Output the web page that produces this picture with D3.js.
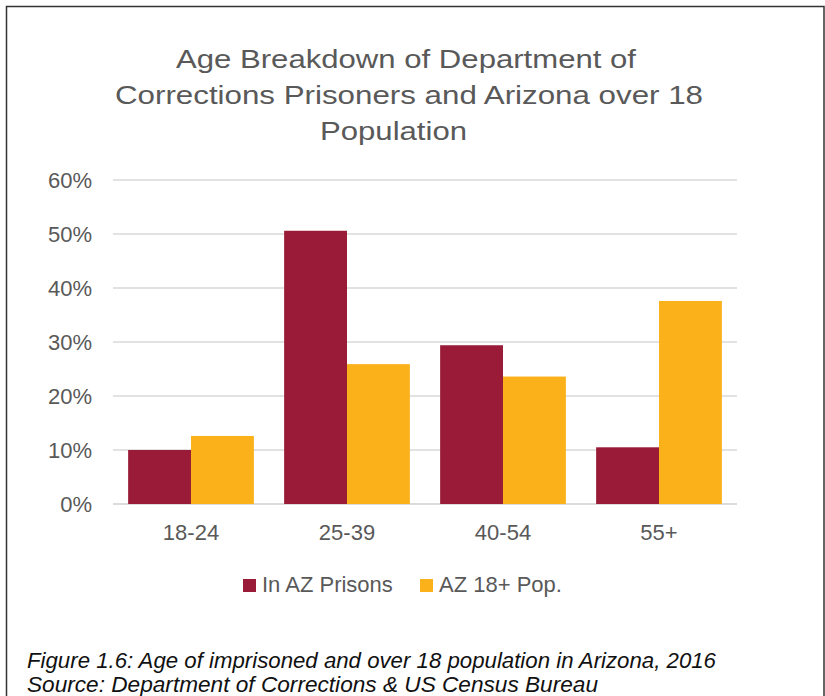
<!DOCTYPE html>
<html><head><meta charset="utf-8">
<script src="https://cdn.jsdelivr.net/npm/d3@7"></script>
<style>body{margin:0;background:#fff} svg{display:block}</style>
</head><body><svg id="c" width="825" height="696"></svg>
<script>
const categories = ["18-24", "25-39", "40-54", "55+"];
const seriesNames = ["In AZ Prisons", "AZ 18+ Pop."];
const prisons = [10.0, 50.6, 29.4, 10.5];
const azPop = [12.6, 25.9, 23.6, 37.6];
const yTicks = [0, 10, 20, 30, 40, 50, 60];
const titleLines = ["Age Breakdown of Department of", "Corrections Prisoners and Arizona over 18", "Population"];
const captionLines = ["Figure 1.6: Age of imprisoned and over 18 population in Arizona, 2016", "Source: Department of Corrections & US Census Bureau"];

const colors = ["#991B37", "#FBB11A"];
const textGrey = "#595959";
const font = "'Liberation Sans', Arial, sans-serif";

const svg = d3.select("#c");
svg.append("rect").attr("x", 0).attr("y", 0).attr("width", 825).attr("height", 696).attr("fill", "#fff");
// frame
svg.append("rect").attr("x", 6.5).attr("y", 6.5).attr("width", 817.5).attr("height", 700)
  .attr("fill", "none").attr("stroke", "#333").attr("stroke-width", 1.5);

const plot = {left: 113, right: 737, top: 180, bottom: 504};
const x = d3.scaleBand().domain(categories).range([plot.left, plot.right]).paddingInner(0.194).paddingOuter(0.097);
const xs = d3.scaleBand().domain(seriesNames).range([0, x.bandwidth()]);
const y = d3.scaleLinear().domain([0, 60]).range([plot.bottom, plot.top]);

// gridlines
svg.append("g").selectAll("line").data(yTicks).join("line")
  .attr("x1", plot.left).attr("x2", plot.right)
  .attr("y1", d => y(d)).attr("y2", d => y(d))
  .attr("stroke", d => d === 0 ? "#cfcfcf" : "#d9d9d9").attr("stroke-width", 1.5);

// y labels
const yAxis = d3.axisLeft(y).tickValues(yTicks).tickFormat(d => d + "%").tickSize(0).tickPadding(0);
const gy = svg.append("g").attr("transform", `translate(92,0)`).call(yAxis);
gy.select(".domain").remove();
gy.selectAll("text").attr("font-family", font).attr("font-size", 22).attr("fill", textGrey).attr("dy", "0.36em");

// bars
const series = [prisons, azPop];
const g = svg.append("g");
series.forEach((vals, si) => {
  g.append("g").selectAll("rect").data(vals).join("rect")
    .attr("x", (d, i) => x(categories[i]) + xs(seriesNames[si]))
    .attr("width", xs.bandwidth())
    .attr("y", d => y(d))
    .attr("height", d => y(0) - y(d))
    .attr("fill", colors[si]);
});

// x labels
const xAxis = d3.axisBottom(x).tickSize(0).tickPadding(0);
const gx = svg.append("g").attr("transform", `translate(0,540)`).call(xAxis);
gx.select(".domain").remove();
gx.selectAll("text").attr("font-family", font).attr("font-size", 22).attr("fill", textGrey).attr("dy", 0);

// title
const titleX = [176, 115, 320];
const titleW = [460, 588, 147];
const titleY = [68, 104, 140];
svg.append("g").selectAll("text").data(titleLines).join("text")
  .attr("x", (d, i) => titleX[i]).attr("y", (d, i) => titleY[i])
  .attr("textLength", (d, i) => titleW[i]).attr("lengthAdjust", "spacingAndGlyphs")
  .attr("font-family", font).attr("font-size", 26).attr("fill", textGrey)
  .text(d => d);

// legend
const legX = [243, 420];
const leg = svg.append("g");
seriesNames.forEach((n, i) => {
  leg.append("rect").attr("x", legX[i]).attr("y", 579).attr("width", 13).attr("height", 13).attr("fill", colors[i]);
  leg.append("text").attr("x", legX[i] + 19).attr("y", 592).attr("font-family", font).attr("font-size", 22)
    .attr("fill", textGrey).text(n);
});

// caption
const capW = [689, 571];
const capY = [668, 692];
svg.append("g").selectAll("text").data(captionLines).join("text")
  .attr("x", 27).attr("y", (d, i) => capY[i])
  .attr("textLength", (d, i) => capW[i]).attr("lengthAdjust", "spacingAndGlyphs")
  .attr("font-family", font).attr("font-size", 21.5).attr("font-style", "italic").attr("fill", "#111")
  .text(d => d);
</script>
</body></html>
